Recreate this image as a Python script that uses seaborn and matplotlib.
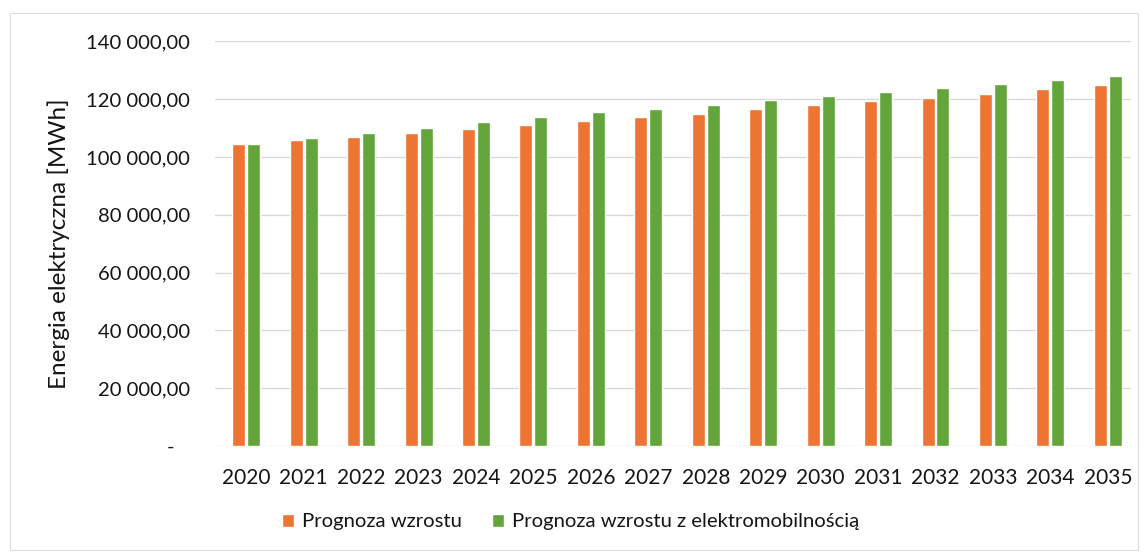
import matplotlib
matplotlib.use("Agg")
import matplotlib.pyplot as plt
import matplotlib.ticker as mticker
from matplotlib.patches import Rectangle
import seaborn as sns
import pandas as pd

# values (MWh)
years = [str(y) for y in range(2020, 2036)]
prognoza = [104400, 105700, 107000, 108400, 109600, 110900, 112300, 113700,
            115000, 116400, 117800, 119200, 120500, 121900, 123400, 124900]
prognoza_em = [104400, 106500, 108300, 110100, 112000, 113800, 115400, 116700,
               118000, 119600, 120900, 122300, 123700, 125200, 126700, 128100]
series_names = ["Prognoza wzrostu", "Prognoza wzrostu z elektromobilnością"]
colors = ["#EE7433", "#63A53A"]

df = pd.DataFrame({
    "rok": years * 2,
    "energia": prognoza + prognoza_em,
    "seria": [series_names[0]] * len(years) + [series_names[1]] * len(years),
})

sns.set_theme(style="white")
plt.rcParams["font.family"] = ["Lato", "DejaVu Sans"]

fig = plt.figure(figsize=(11.48, 5.57), dpi=100)
ax = fig.add_axes([0.187, 0.199, 0.798, 0.727])

sns.barplot(data=df, x="rok", y="energia", hue="seria", palette=colors,
            width=0.52, gap=0.13, ax=ax, saturation=1, legend=True)

ax.set_ylim(0, 140000)
ax.set_xlim(-0.55, 15.4)
ax.yaxis.set_major_locator(mticker.MultipleLocator(20000))


def fmt(v, pos):
    if v == 0:
        return "-   "
    return f"{v:,.2f}".replace(",", " ").replace(".", ",")


ax.yaxis.set_major_formatter(mticker.FuncFormatter(fmt))
ax.grid(axis="y", color="#d6d6d6", linewidth=0.9)
ax.set_axisbelow(True)
for s in ax.spines.values():
    s.set_visible(False)
ax.tick_params(axis="x", length=0, pad=16, labelsize=15, colors="#151515")
ax.tick_params(axis="y", length=0, pad=18, labelsize=14.6, colors="#151515")
ax.set_xlabel("")
ax.set_ylabel("Energia elektryczna [MWh]", fontsize=17.5, color="#151515")
ax.yaxis.set_label_coords(-0.158, 0.5)

handles, labels = ax.get_legend_handles_labels()
ax.get_legend().remove()
fig.legend(handles, labels, loc="center", bbox_to_anchor=(0.497, 0.063), ncol=2,
           frameon=False, fontsize=14.6, handlelength=0.6, handleheight=0.6,
           handletextpad=0.4, columnspacing=1.5, labelcolor="#151515")

fig.patches.append(Rectangle((0.009, 0.012), 0.982, 0.965, transform=fig.transFigure,
                             fill=False, edgecolor="#dcdcdc", linewidth=0.8))

fig.savefig("out.png", dpi=100)
